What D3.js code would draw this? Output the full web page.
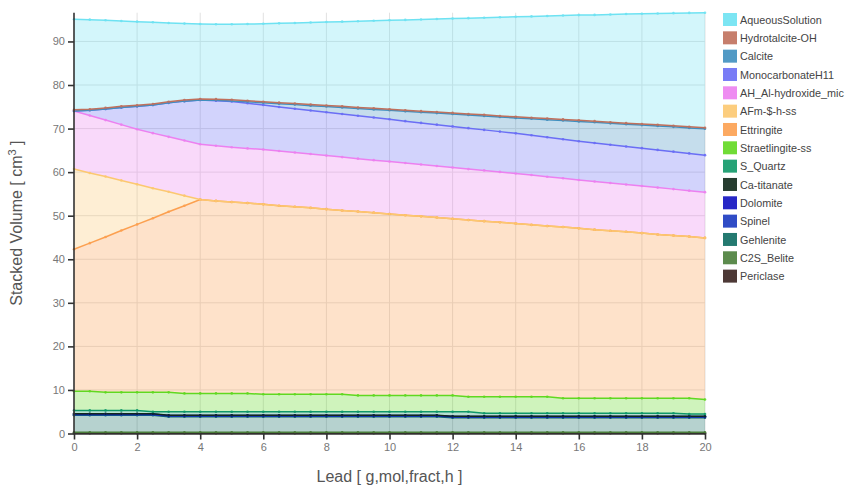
<!DOCTYPE html>
<html><head><meta charset="utf-8">
<script src="https://cdn.jsdelivr.net/npm/d3@7"></script>
<style>body{margin:0;background:#fff}svg{font-family:Arial,"Liberation Sans",sans-serif}</style>
</head><body><svg id="c" width="850" height="489"></svg>
<script>
const xValues = [0,0.5,1,1.5,2,2.5,3,3.5,4,4.5,5,5.5,6,6.5,7,7.5,8,8.5,9,9.5,10,10.5,11,11.5,12,12.5,13,13.5,14,14.5,15,15.5,16,16.5,17,17.5,18,18.5,19,19.5,20];
const periclase = [0.08,0.08,0.08,0.08,0.08,0.08,0.08,0.08,0.08,0.08,0.08,0.08,0.08,0.08,0.08,0.08,0.08,0.08,0.08,0.08,0.08,0.08,0.08,0.08,0.08,0.08,0.08,0.08,0.08,0.08,0.08,0.08,0.08,0.08,0.08,0.08,0.08,0.08,0.08,0.08,0.08];
const c2sBelite = [0.22,0.22,0.22,0.22,0.22,0.22,0.22,0.22,0.22,0.22,0.22,0.22,0.22,0.22,0.22,0.22,0.22,0.22,0.22,0.22,0.22,0.22,0.22,0.22,0.22,0.22,0.22,0.22,0.22,0.22,0.22,0.22,0.22,0.22,0.22,0.22,0.22,0.22,0.22,0.22,0.22];
const gehlenite = [3.88,3.88,3.88,3.88,3.88,3.88,3.55,3.55,3.55,3.55,3.55,3.55,3.55,3.55,3.55,3.55,3.55,3.55,3.55,3.55,3.55,3.55,3.55,3.55,3.32,3.32,3.32,3.32,3.32,3.32,3.32,3.32,3.32,3.32,3.32,3.32,3.32,3.32,3.32,3.32,3.32];
const spinel = [0.15,0.15,0.15,0.15,0.15,0.15,0.15,0.15,0.15,0.15,0.15,0.15,0.15,0.15,0.15,0.15,0.15,0.15,0.15,0.15,0.15,0.15,0.15,0.15,0.15,0.15,0.15,0.15,0.15,0.15,0.15,0.15,0.15,0.15,0.15,0.15,0.15,0.15,0.15,0.15,0.15];
const dolomite = [0.15,0.15,0.15,0.15,0.15,0.15,0.15,0.15,0.15,0.15,0.15,0.15,0.15,0.15,0.15,0.15,0.15,0.15,0.15,0.15,0.15,0.15,0.15,0.15,0.15,0.15,0.15,0.15,0.15,0.15,0.15,0.15,0.15,0.15,0.15,0.15,0.15,0.15,0.15,0.15,0.15];
const caTitanate = [0.05,0.05,0.05,0.05,0.05,0.05,0.05,0.05,0.05,0.05,0.05,0.05,0.05,0.05,0.05,0.05,0.05,0.05,0.05,0.05,0.05,0.05,0.05,0.05,0.05,0.05,0.05,0.05,0.05,0.05,0.05,0.05,0.05,0.05,0.05,0.05,0.05,0.05,0.05,0.05,0.05];
const sQuartz = [0.77,0.77,0.77,0.77,0.77,0.47,0.80,0.80,0.80,0.80,0.80,0.80,0.80,0.80,0.80,0.80,0.80,0.80,0.80,0.80,0.80,0.80,0.80,0.80,1.03,1.03,0.67,0.67,0.67,0.67,0.67,0.67,0.67,0.67,0.67,0.67,0.67,0.67,0.67,0.48,0.48];
const straetlingite = [4.4,4.4,4.15,4.15,4.15,4.45,4.45,4.2,4.2,4.2,4.2,4.2,4.0,4.0,4.0,4.0,4.0,4.0,3.75,3.75,3.75,3.75,3.75,3.75,3.75,3.45,3.81,3.81,3.81,3.81,3.81,3.46,3.46,3.46,3.46,3.46,3.46,3.46,3.46,3.65,3.35];
const ettringite = [32.6,34.0,35.65,37.15,38.55,39.95,41.45,43.1,44.5,44.2,43.95,43.7,43.6,43.3,43.05,42.8,42.5,42.2,42.2,41.95,41.65,41.35,41.1,40.85,40.55,40.55,40.3,40.05,39.75,39.45,39.2,39.3,39.0,38.7,38.45,38.2,37.9,37.6,37.35,37.1,37.1];
const afm = [18.4,16.1,13.9,11.5,9.2,6.9,4.6,2.3,0,0,0,0,0,0,0,0,0,0,0,0,0,0,0,0,0,0,0,0,0,0,0,0,0,0,0,0,0,0,0,0,0];
const ahHydroxide = [13.35,13.2,12.95,12.8,12.65,12.65,12.6,12.65,12.7,12.65,12.55,12.55,12.6,12.55,12.45,12.35,12.3,12.25,12.15,12.05,12.05,12.0,11.9,11.8,11.75,11.7,11.65,11.55,11.5,11.45,11.3,11.2,11.1,11.05,10.95,10.85,10.8,10.75,10.65,10.55,10.5];
const monocarbonate = [0,1.2,2.55,3.95,5.25,6.45,7.8,9.05,10.15,10.35,10.5,10.35,10.2,10.1,10.05,10.0,9.95,9.9,9.85,9.8,9.7,9.6,9.55,9.5,9.45,9.4,9.3,9.25,9.2,9.1,9.05,8.95,8.9,8.85,8.8,8.75,8.7,8.65,8.6,8.55,8.5];
const calcite = [0,0,0,0,0,0,0,0,0,0.1,0.15,0.35,0.5,0.75,0.95,1.1,1.3,1.5,1.65,1.85,2.05,2.25,2.45,2.65,2.85,3.0,3.2,3.35,3.55,3.8,4.05,4.3,4.55,4.75,4.9,5.1,5.3,5.5,5.7,5.85,6.05];
const hydrotalcite = [0.25,0.25,0.25,0.25,0.25,0.25,0.25,0.25,0.25,0.25,0.25,0.25,0.25,0.25,0.25,0.25,0.25,0.25,0.25,0.25,0.25,0.25,0.25,0.25,0.25,0.25,0.25,0.25,0.25,0.25,0.25,0.25,0.25,0.25,0.25,0.25,0.25,0.25,0.25,0.25,0.25];
const aqueous = [20.8,20.55,20.1,19.6,19.2,18.75,18.1,17.55,17.2,17.2,17.35,17.6,17.9,18.2,18.5,18.85,19.15,19.45,19.8,20.1,20.4,20.75,21.05,21.35,21.65,22.0,22.3,22.65,22.95,23.25,23.55,23.85,24.15,24.4,24.75,25.05,25.3,25.55,25.85,26.15,26.4];

// stacking order, bottom to top
const seriesNames = ["Periclase","C2S_Belite","Gehlenite","Spinel","Dolomite","Ca-titanate","S_Quartz","Straetlingite-ss","Ettringite","AFm-$-h-ss","AH_Al-hydroxide_mic","MonocarbonateH11","Calcite","Hydrotalcite-OH","AqueousSolution"];
const seriesValues = [periclase,c2sBelite,gehlenite,spinel,dolomite,caTitanate,sQuartz,straetlingite,ettringite,afm,ahHydroxide,monocarbonate,calcite,hydrotalcite,aqueous];
const seriesColors = ["#3a2420","#4a7e3a","#0c6a60","#1838c0","#1010c0","#10281a","#109868","#60d820","#fca050","#fcc870","#ec80f0","#6a6ef5","#3f8fbf","#c0705c","#6ee2f2"];
const xTicks = [0,2,4,6,8,10,12,14,16,18,20];
const yTicks = [0,10,20,30,40,50,60,70,80,90];
const xTitle = "Lead [ g,mol,fract,h ]";

const svg = d3.select("#c");
const L = 74, R = 705, T = 12.7, B = 433.5;

const table = xValues.map((x, i) => {
  const row = {x};
  seriesNames.forEach((n, k) => row[n] = seriesValues[k][i]);
  return row;
});
const stacked = d3.stack().keys(seriesNames)(table);
const yMax = d3.max(stacked[stacked.length - 1], d => d[1]);

const x = d3.scaleLinear().domain([0, 20]).range([L, R]);
const y = d3.scaleLinear().domain([0, yMax]).range([B, T]);

// grid
const grid = svg.append("g");
grid.selectAll(".gx").data(xTicks.slice(1)).join("line")
  .attr("x1", d => x(d)).attr("x2", d => x(d)).attr("y1", T).attr("y2", B)
  .attr("stroke", "#e1e1e1").attr("stroke-width", 1);
grid.selectAll(".gy").data(yTicks.slice(1)).join("line")
  .attr("x1", L).attr("x2", R).attr("y1", d => y(d)).attr("y2", d => y(d))
  .attr("stroke", "#e1e1e1").attr("stroke-width", 1);

// fills
const area = d3.area().x(d => x(d.data.x)).y0(d => y(d[0])).y1(d => y(d[1]));
svg.append("g").selectAll("path").data(stacked).join("path")
  .attr("d", area)
  .attr("fill", (d, i) => seriesColors[i])
  .attr("fill-opacity", 0.3);

// lines
const line = d3.line().x(d => x(d.data.x)).y(d => y(d[1]));
svg.append("g").selectAll("path").data(stacked).join("path")
  .attr("d", line).attr("fill", "none")
  .attr("stroke", (d, i) => seriesColors[i]).attr("stroke-width", 1.5);

// markers
const mk = svg.append("g");
stacked.forEach((s, i) => {
  mk.selectAll(null).data(s).join("circle")
    .attr("cx", d => x(d.data.x)).attr("cy", d => y(d[1])).attr("r", 1.3)
    .attr("fill", seriesColors[i]).attr("fill-opacity", 0.9);
});

// axes
const xAxis = svg.append("g").attr("transform", `translate(0,${B})`)
  .call(d3.axisBottom(x).tickValues(xTicks).tickSize(6).tickSizeOuter(0).tickPadding(4));
const yAxis = svg.append("g").attr("transform", `translate(${L},0)`)
  .call(d3.axisLeft(y).tickValues(yTicks).tickSize(6).tickSizeOuter(0).tickPadding(3));
[xAxis, yAxis].forEach(a => {
  a.select(".domain").attr("stroke", "#333").attr("stroke-width", 1.6);
  a.selectAll(".tick line").attr("stroke", "#333").attr("stroke-width", 1.6);
  a.selectAll(".tick text").attr("fill", "#777").attr("font-size", 11).attr("font-family", "Arial, 'Liberation Sans', sans-serif");
});
yAxis.select(".domain").attr("d", `M0,${T}V${B}`);

// titles
svg.append("text").attr("x", (L + R) / 2).attr("y", 482).attr("text-anchor", "middle")
  .attr("font-size", 16).attr("fill", "#555").text(xTitle);
const yt = svg.append("text").attr("transform", `translate(22,${(T + B) / 2}) rotate(-90)`)
  .attr("text-anchor", "middle").attr("font-size", 16).attr("fill", "#555");
yt.append("tspan").text("Stacked Volume [ cm");
yt.append("tspan").attr("dy", -6).attr("font-size", 11).text("3");
yt.append("tspan").attr("dy", 6).text(" ]");

// legend (top of stack first)
const legendNames = seriesNames.slice().reverse();
const legendColors = seriesColors.slice().reverse();
const lg = svg.append("g").attr("transform", "translate(723,13)");
legendNames.forEach((n, i) => {
  const g = lg.append("g").attr("transform", `translate(0,${i * 18.33})`);
  g.append("rect").attr("width", 14).attr("height", 13).attr("fill", legendColors[i]).attr("fill-opacity", 0.9);
  g.append("text").attr("x", 17).attr("y", 10.6).attr("font-size", 10.8).attr("fill", "#444").text(n);
});
</script></body></html>
